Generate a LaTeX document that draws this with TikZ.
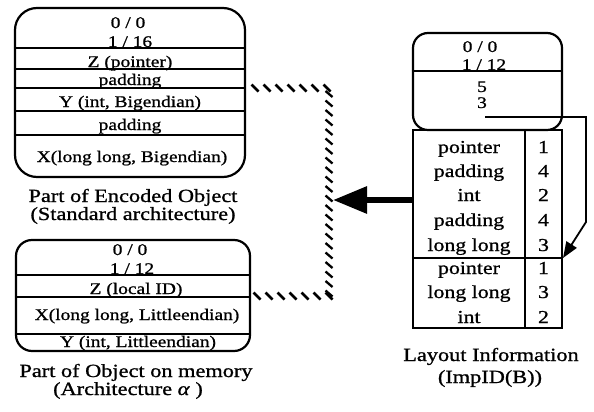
\documentclass[tikz,border=0pt]{standalone}
\usepackage{fontspec}
\setmainfont{Liberation Serif}[FakeStretch=1.2,FakeBold=1]
\usetikzlibrary{arrows.meta,decorations.markings}
\begin{document}
\begin{tikzpicture}[x=1pt,y=-1pt,
  box/.style={draw, line width=2.2pt, rounded corners=#1, inner sep=0pt},
  box/.default=18pt,
  tbl/.style={draw, line width=2.2pt, inner sep=0pt},
  rowline/.style={line width=1.8pt},
  btxt/.style={anchor=base, inner sep=0pt, font=\fontsize{16.2}{16.2}\selectfont},
  ttxt/.style={anchor=base, inner sep=0pt, font=\fontsize{18.2}{18.2}\selectfont},
  captxt/.style={anchor=base, inner sep=0pt, font=\fontsize{18.6}{18.6}\selectfont},
  hatchh/.style={postaction={decorate}, decoration={markings,
     mark=between positions 4pt and 1 step 12pt with {\pgftransformresetnontranslations
       \draw[line width=2.6pt] (-3.5pt,3.5pt) -- (3.5pt,-3.5pt);}}},
  hatchv/.style={postaction={decorate}, decoration={markings,
     mark=between positions 6pt and 1 step 9.5pt with {\pgftransformresetnontranslations
       \draw[line width=2.3pt] (-3.5pt,3pt) -- (3.5pt,-3pt);}}}
]
\useasboundingbox (0,0) rectangle (594,412);

% ---- Encoded object (box A)
\node[box=22pt, minimum width=230pt, minimum height=169pt] (encA) at (130,92.5) {};
\foreach \yy in {48,69,88,111,135}
  \draw[rowline] (encA.west |- 0,\yy) -- (encA.east |- 0,\yy);
\node[btxt] (a1) at (128,28) {0 / 0};
\node[btxt] (a2) at (130,47) {1 / 16};
\node[btxt] (a3) at (130,67) {Z (pointer)};
\node[btxt] (a4) at (130,85) {padding};
\node[btxt] (a5) at (130,107) {Y (int, Bigendian)};
\node[btxt] (a6) at (130,130) {padding};
\node[btxt] (a7) at (132,162) {X(long long, Bigendian)};
\node[captxt] (capA1) at (133,202) {Part of Encoded Object};
\node[captxt] (capA2) at (133,220) {(Standard architecture)};

% ---- Object on memory (box B)
\node[box=16pt, minimum width=234pt, minimum height=111pt] (memB) at (133,295.5) {};
\foreach \yy in {275,297,334}
  \draw[rowline] (memB.west |- 0,\yy) -- (memB.east |- 0,\yy);
\node[btxt] (b1) at (130,255) {0 / 0};
\node[btxt] (b2) at (132,274) {1 / 12};
\node[btxt] (b3) at (136,294) {Z (local ID)};
\node[btxt] (b4) at (137,320) {X(long long, Littleendian)};
\node[btxt] (b5) at (138,347) {Y (int, Littleendian)};
\node[captxt] (capB1) at (136,377) {Part of Object on memory};
\node[captxt] (capB2) at (128,395) {(Architecture \textit{α} )};

% ---- Layout information header (box C)
\node[box=15pt, minimum width=149pt, minimum height=97pt] (hdrC) at (487.5,81.5) {};
\draw[rowline] (hdrC.west |- 0,71) -- (hdrC.east |- 0,71);
\node[btxt] (c1) at (480,52) {0 / 0};
\node[btxt] (c2) at (484,70) {1 / 12};
\node[btxt] (c3) at (482,92) {5};
\node[btxt] (c4) at (482,108) {3};

% ---- Layout table
\node[tbl, minimum width=149pt, minimum height=198pt] (table) at (487.5,229) {};
\draw[rowline] (525,130) -- (525,328);
\draw[rowline] (table.west |- 0,258) -- (table.east |- 0,258);
\foreach \yy/\nm/\nn/\lab in {153/pointer/1/t1, 177/padding/4/t2, 201/int/2/t3,
    226/padding/4/t4, 251/long long/3/t5, 274/pointer/1/t6, 298/long long/3/t7, 323/int/2/t8} {
  \node[ttxt] (\lab a) at (469,\yy) {\nm};
  \node[ttxt] (\lab b) at (543.5,\yy) {\nn};
}
\node[captxt] (capC1) at (491,361) {Layout Information};
\node[captxt] (capC2) at (490,383) {(ImpID(B))};

% ---- pointer from "3" to second record
\coordinate (hs) at (485,117);
\coordinate (hk1) at (586,117);
\coordinate (hk2) at (586,222);
\coordinate (tdiv) at (563,258);
\draw[line width=1.8pt, -{Triangle[length=16pt,width=12pt]}] (hs) -- (hk1) -- (hk2) -- (tdiv);

% ---- hatched bracket
\coordinate (br1) at (251,88);
\coordinate (br2) at (329,88);
\coordinate (br3) at (329,296);
\coordinate (br4) at (253,296);
\path[hatchh] (br1) -- (br2);
\path[hatchv] (br2) -- (br3);
\path[hatchh] (br4) -- (br3);

% ---- thick arrow from table to bracket
\coordinate (btip) at (333,200);
\draw[line width=6pt, -{Triangle[length=34pt,width=26pt]}] (table.west |- 0,200) -- (btip);
\end{tikzpicture}
\end{document}
